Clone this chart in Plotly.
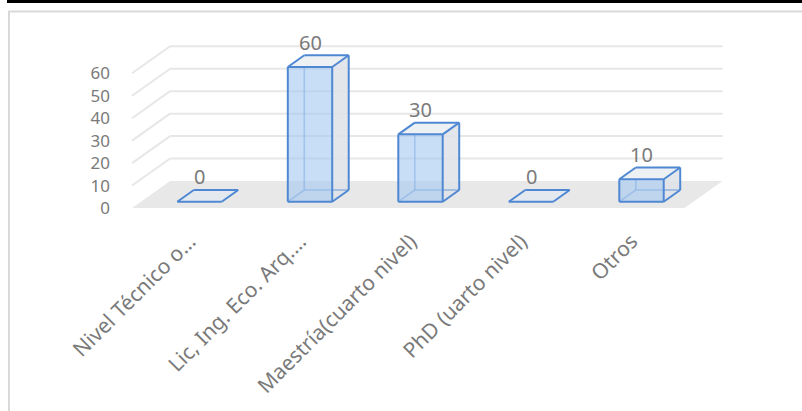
import plotly.graph_objects as go

categories = ["Nivel Técnico o…", "Lic, Ing. Eco. Arq.…", "Maestría(cuarto nivel)",
              "PhD (uarto nivel)", "Otros"]
values = [0, 60, 30, 0, 10]
y_ticks = [0, 10, 20, 30, 40, 50, 60]

# Oblique projection: depth d runs 0 (front of floor) .. 1 (back wall).
DEPTH_X = 0.344      # horizontal shift of full depth, in category units
DEPTH_Y = 12.03      # vertical shift of full depth, in value units
BAR_FRONT = 0.233    # depth of the bars' front faces
BAR_BACK = 0.667     # depth of the bars' back faces
HALF_W = 0.201       # half bar width, in category units
FLOOR_LEFT, FLOOR_RIGHT = -0.53, 4.47
LABEL_SHIFT = -0.09  # category-label anchor offset, in category units

EDGE = "#4f88d2"
GRID = "#e7e7e7"
TEXT = "#7a7a7a"
FONT = "Noto Sans"

W, H = 802, 411
L, R, T, B = 120, 62, 30, 196
PX_PER_CAT = 110.5
PX_PER_VAL = 2.245


def proj(x, v, d):
    return x + (d - BAR_FRONT) * DEPTH_X, v + d * DEPTH_Y


def poly(points):
    xs, ys = [], []
    for p in points:
        px, py = proj(*p)
        xs.append(px)
        ys.append(py)
    return xs, ys


def segments(segs):
    xs, ys = [], []
    for a, b in segs:
        ax, ay = proj(*a)
        bx, by = proj(*b)
        xs += [ax, bx, None]
        ys += [ay, by, None]
    return xs, ys


fig = go.Figure()

# floor
fx, fy = poly([(FLOOR_LEFT, 0, 0), (FLOOR_RIGHT, 0, 0), (FLOOR_RIGHT, 0, 1), (FLOOR_LEFT, 0, 1)])
fig.add_trace(go.Scatter(x=fx, y=fy, fill="toself", fillcolor="#e8e8e8",
                         mode="lines", line=dict(width=0), hoverinfo="skip"))

# back wall and side wall gridlines
grid = []
for t in y_ticks[1:]:
    grid.append(((FLOOR_LEFT, t, 1), (FLOOR_RIGHT, t, 1)))
    grid.append(((FLOOR_LEFT, t, 0), (FLOOR_LEFT, t, 1)))
gx, gy = segments(grid)
fig.add_trace(go.Scatter(x=gx, y=gy, mode="lines", line=dict(color=GRID, width=2),
                         hoverinfo="skip"))

f, b = BAR_FRONT, BAR_BACK
for i, v in enumerate(values):
    xl, xr = i - HALF_W, i + HALF_W
    if v > 0:
        # right side face
        sx, sy = poly([(xr, 0, f), (xr, 0, b), (xr, v, b), (xr, v, f)])
        fig.add_trace(go.Scatter(x=sx, y=sy, fill="toself", fillcolor="rgba(222,227,233,0.85)",
                                 mode="lines", line=dict(width=0), hoverinfo="skip"))
        # hidden back edges seen through the glass-like box
        hx, hy = segments([((xl, 0, f), (xl, 0, b)), ((xl, 0, b), (xr, 0, b)),
                           ((xl, 0, b), (xl, v, b))])
        fig.add_trace(go.Scatter(x=hx, y=hy, mode="lines",
                                 line=dict(color="rgba(79,136,210,0.55)", width=1.6),
                                 hoverinfo="skip"))
        # front face
        ax, ay = poly([(xl, 0, f), (xr, 0, f), (xr, v, f), (xl, v, f)])
        fig.add_trace(go.Scatter(x=ax, y=ay, fill="toself", fillcolor="rgba(164,199,240,0.6)",
                                 mode="lines", line=dict(width=0), hoverinfo="skip"))
        # top face
        tx, ty = poly([(xl, v, f), (xr, v, f), (xr, v, b), (xl, v, b)])
        fig.add_trace(go.Scatter(x=tx, y=ty, fill="toself", fillcolor="#eef1f4",
                                 mode="lines", line=dict(width=0), hoverinfo="skip"))
        ox, oy = segments([
            ((xl, 0, f), (xr, 0, f)), ((xr, 0, f), (xr, v, f)), ((xr, v, f), (xl, v, f)),
            ((xl, v, f), (xl, 0, f)), ((xr, 0, f), (xr, 0, b)), ((xr, 0, b), (xr, v, b)),
            ((xr, v, b), (xl, v, b)), ((xl, v, b), (xl, v, f)), ((xr, v, f), (xr, v, b)),
        ])
    else:
        tx, ty = poly([(xl, 0, f), (xr, 0, f), (xr, 0, b), (xl, 0, b)])
        fig.add_trace(go.Scatter(x=tx, y=ty, fill="toself", fillcolor="#e4e9ef",
                                 mode="lines", line=dict(width=0), hoverinfo="skip"))
        ox, oy = segments([((xl, 0, f), (xr, 0, f)), ((xr, 0, f), (xr, 0, b)),
                           ((xr, 0, b), (xl, 0, b)), ((xl, 0, b), (xl, 0, f))])
    fig.add_trace(go.Scatter(x=ox, y=oy, mode="lines", line=dict(color=EDGE, width=2),
                             hoverinfo="skip"))
    fig.add_annotation(x=i, y=v + b * DEPTH_Y, text=str(v), showarrow=False,
                       yanchor="middle", yshift=13,
                       font=dict(family=FONT, size=20, color=TEXT))

plot_w = W - L - R
plot_h = H - T - B
x_left = (L - 199.5) / PX_PER_CAT
x_right = (W - R - 199.5) / PX_PER_CAT
y_bottom = (208 - (H - B)) / PX_PER_VAL
y_top = (208 - T) / PX_PER_VAL


def px_to_paper_x(px):
    return (px - L) / plot_w


def py_to_paper_y(py):
    return (H - B - py) / plot_h


# outer frame: dark band on top, light border
fig.add_shape(type="rect", xref="paper", yref="paper",
              x0=px_to_paper_x(7), x1=px_to_paper_x(803), y0=py_to_paper_y(3), y1=py_to_paper_y(-1),
              fillcolor="black", line=dict(width=0), layer="above")
fig.add_shape(type="line", xref="paper", yref="paper",
              x0=px_to_paper_x(8), x1=px_to_paper_x(803), y0=py_to_paper_y(11.5), y1=py_to_paper_y(11.5),
              line=dict(color="#d9d9d9", width=2))
fig.add_shape(type="line", xref="paper", yref="paper",
              x0=px_to_paper_x(9), x1=px_to_paper_x(9), y0=py_to_paper_y(11), y1=py_to_paper_y(412),
              line=dict(color="#d9d9d9", width=2))

fig.update_layout(
    width=W, height=H,
    margin=dict(l=L, r=R, t=T, b=B),
    paper_bgcolor="white", plot_bgcolor="white",
    showlegend=False,
    xaxis=dict(range=[x_left, x_right], tickmode="array",
               tickvals=[i + LABEL_SHIFT for i in range(len(categories))],
               ticktext=categories, tickangle=-45, showgrid=False, zeroline=False,
               showline=False, ticks="", ticklabelstandoff=9,
               tickfont=dict(family=FONT, size=21, color=TEXT), fixedrange=True),
    yaxis=dict(range=[y_bottom, y_top], tickmode="array", tickvals=y_ticks,
               showgrid=False, zeroline=False, showline=False, ticks="", ticklabelstandoff=9,
               tickfont=dict(family=FONT, size=17, color=TEXT), fixedrange=True),
)

fig.write_html("out.html")
